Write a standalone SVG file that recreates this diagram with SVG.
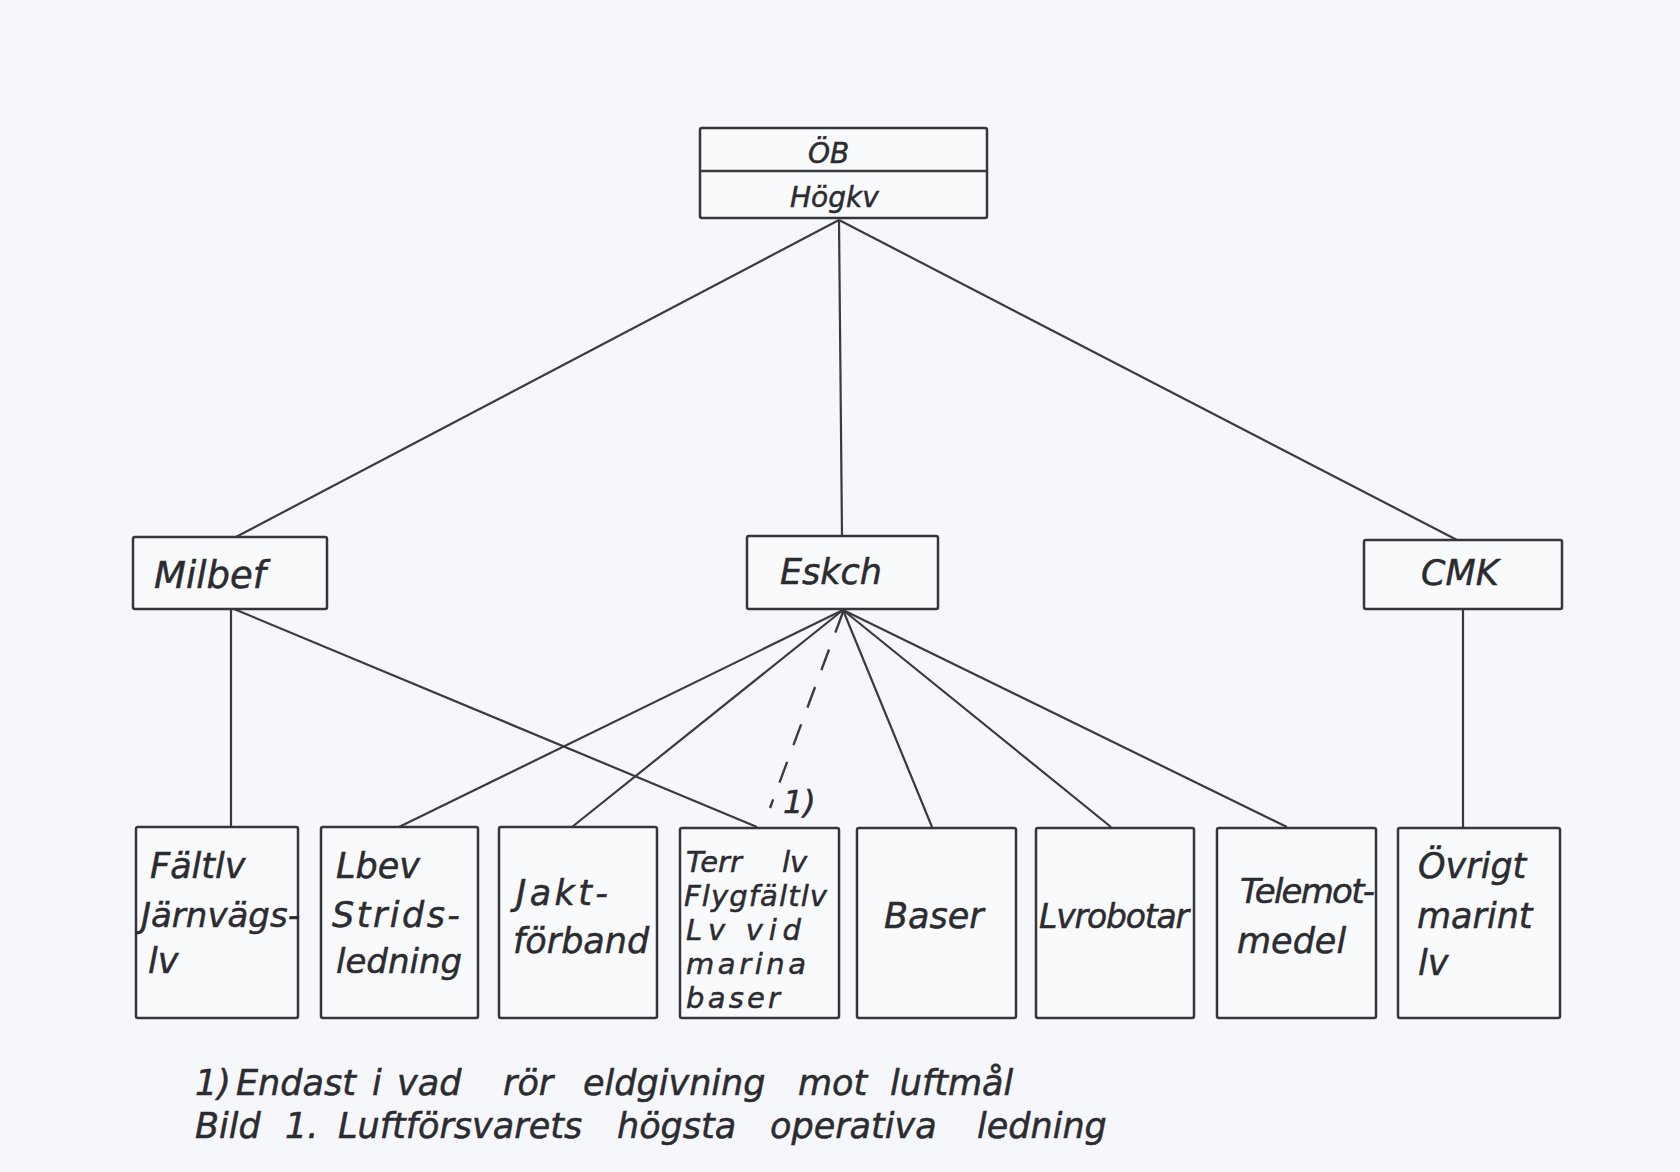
<svg xmlns="http://www.w3.org/2000/svg" width="1680" height="1172" viewBox="0 0 1680 1172">
<style>
.bg{fill:#f6f7fa}
.box{fill:#f9fafc;stroke:#35353a;stroke-width:2.5}
.ln{stroke:#3a3a40;stroke-width:2.2;fill:none}
.dash{stroke:#3a3a40;stroke-width:2.4;fill:none;stroke-dasharray:22 18}
text{font-family:"DejaVu Sans","Liberation Sans",sans-serif;font-style:italic;fill:#2b2b30;stroke:#2b2b30;stroke-width:0.5}
.t35{font-size:35px}
.t32{font-size:32px}
.t29{font-size:29px}
.t28{font-size:28px}
.cap{font-size:35px}
</style>
<rect class="bg" x="0" y="0" width="1680" height="1172"/>
<g id="connectors">
<line class="ln" x1="839" y1="220" x2="234" y2="538"/>
<line class="ln" x1="839" y1="220" x2="842" y2="536"/>
<line class="ln" x1="839" y1="220" x2="1457" y2="540"/>
<line class="ln" x1="231" y1="609" x2="231" y2="827"/>
<line class="ln" x1="234" y1="609" x2="757" y2="827"/>
<line class="ln" x1="843" y1="610" x2="399" y2="827"/>
<line class="ln" x1="843" y1="610" x2="572" y2="827"/>
<line class="dash" x1="843" y1="612" x2="770" y2="808"/>
<line class="ln" x1="843" y1="610" x2="932" y2="827"/>
<line class="ln" x1="843" y1="610" x2="1111" y2="827"/>
<line class="ln" x1="843" y1="610" x2="1287" y2="827"/>
<line class="ln" x1="1463" y1="609" x2="1463" y2="827"/>
<text class="t32" x="783" y="813">1)</text>
</g>
<g id="node-ob">
<rect class="box" x="700" y="128" width="287" height="90" rx="2"/>
<line class="ln" x1="700" y1="171" x2="987" y2="171" style="stroke-width:2.5"/>
<text class="t28" x="808" y="163">ÖB</text>
<text class="t28" x="790" y="207">Högkv</text>
</g>
<g id="node-milbef">
<rect class="box" x="133" y="537" width="194" height="72" rx="2"/>
<text style="font-size:37px" x="154" y="588">Milbef</text>
</g>
<g id="node-eskch">
<rect class="box" x="747" y="536" width="191" height="73" rx="2"/>
<text class="t35" x="780" y="584">Eskch</text>
</g>
<g id="node-cmk">
<rect class="box" x="1364" y="540" width="198" height="69" rx="2"/>
<text class="t35" x="1421" y="585">CMK</text>
</g>
<g id="node-faltlv">
<rect class="box" x="136" y="827" width="162" height="191" rx="2"/>
<text class="t35" x="150" y="878">Fältlv</text>
<text style="font-size:34px" x="141" y="927">Järnvägs-</text>
<text class="t35" x="148" y="973">lv</text>
</g>
<g id="node-lbev">
<rect class="box" x="321" y="827" width="157" height="191" rx="2"/>
<text class="t35" x="336" y="878">Lbev</text>
<text class="t35" x="332" y="927" textLength="128">Strids-</text>
<text style="font-size:34px" x="336" y="973">ledning</text>
</g>
<g id="node-jakt">
<rect class="box" x="499" y="827" width="158" height="191" rx="2"/>
<text class="t35" x="516" y="905" textLength="92">Jakt-</text>
<text class="t35" x="513" y="953">förband</text>
</g>
<g id="node-terr">
<rect class="box" x="680" y="828" width="159" height="190" rx="2"/>
<text class="t29" x="686" y="872">Terr<tspan x="782">lv</tspan></text>
<text class="t29" x="684" y="906" textLength="143">Flygfältlv</text>
<text class="t29" x="686" y="940" textLength="115">Lv vid</text>
<text class="t29" x="686" y="974" textLength="120">marina</text>
<text class="t29" x="686" y="1008" textLength="94">baser</text>
</g>
<g id="node-baser">
<rect class="box" x="857" y="828" width="159" height="190" rx="2"/>
<text class="t35" x="884" y="928">Baser</text>
</g>
<g id="node-lvrobotar">
<rect class="box" x="1036" y="828" width="158" height="190" rx="2"/>
<text style="font-size:33px" x="1039" y="928" textLength="150">Lvrobotar</text>
</g>
<g id="node-telemot">
<rect class="box" x="1217" y="828" width="159" height="190" rx="2"/>
<text style="font-size:34px" x="1240" y="903" textLength="135">Telemot-</text>
<text class="t35" x="1237" y="953">medel</text>
</g>
<g id="node-ovrigt">
<rect class="box" x="1398" y="828" width="162" height="190" rx="2"/>
<text class="t35" x="1418" y="878">Övrigt</text>
<text class="t35" x="1417" y="928">marint</text>
<text class="t35" x="1418" y="975">lv</text>
</g>
<g id="caption">
<text class="cap" x="195" y="1095">1)<tspan x="236">Endast</tspan><tspan x="372">i</tspan><tspan x="397">vad</tspan><tspan x="503">rör</tspan><tspan x="583">eldgivning</tspan><tspan x="798">mot</tspan><tspan x="890">luftmål</tspan></text>
<text class="cap" x="195" y="1138">Bild<tspan x="285">1.</tspan><tspan x="338">Luftförsvarets</tspan><tspan x="617">högsta</tspan><tspan x="770">operativa</tspan><tspan x="977">ledning</tspan></text>
</g>
</svg>
